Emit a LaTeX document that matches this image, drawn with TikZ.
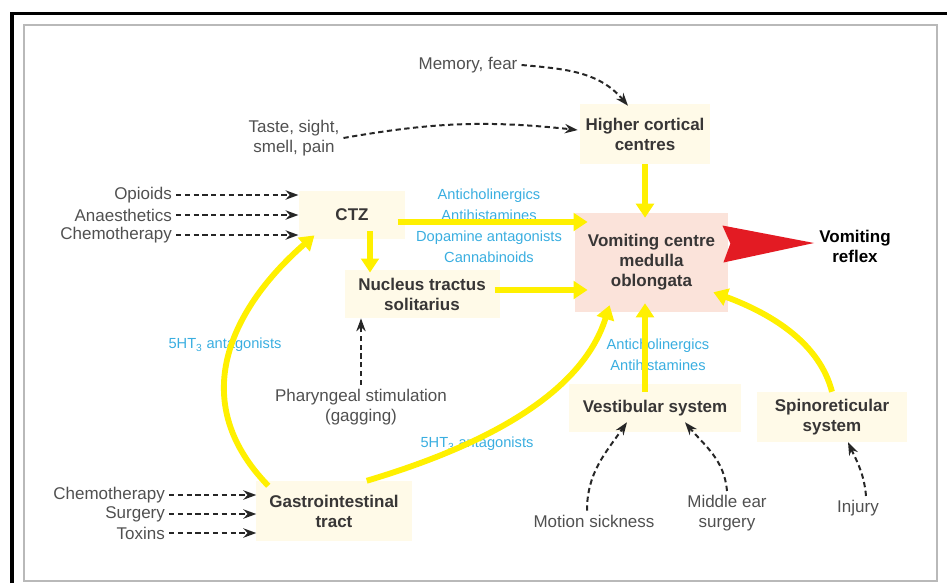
\documentclass[tikz,border=0pt]{standalone}
\usepackage{fontspec}
\setmainfont{Liberation Sans}
\usetikzlibrary{arrows.meta, calc}

\definecolor{boxfill}{HTML}{FFFAE8}
\definecolor{centrefill}{HTML}{FBE3DA}
\definecolor{signalyellow}{HTML}{FFF000}
\definecolor{drugblue}{HTML}{3AAEE0}
\definecolor{causegray}{HTML}{505050}
\definecolor{boxtext}{HTML}{383636}
\definecolor{reflexred}{HTML}{E31B23}

\begin{document}
\begin{tikzpicture}[
	x=0.03cm, y=0.03cm,
	region/.style={fill=boxfill, text=boxtext, align=center, inner sep=0pt,
		font=\bfseries\fontsize{14.5}{17}\selectfont},
	cause/.style={text=causegray, align=center, font=\fontsize{14.5}{17}\selectfont},
	drug/.style={text=drugblue, align=center, font=\fontsize{12.5}{18}\selectfont},
	signal/.style={draw=signalyellow, line width=5pt, -{Triangle[length=12pt, width=15pt]}},
	trigger/.style={draw=black!85, line width=1.7pt, dash pattern=on 4.5pt off 3pt,
		-{Stealth[length=11pt, width=8pt]}},
]
	\useasboundingbox (0, 0) rectangle (947, -583);

	% Frame
	\draw[line width=2.6pt] (12, -583) -- (12, -13.5) -- (947, -13.5);
	\draw[gray!55, line width=1.4pt] (24, -25) rectangle (937, -581);

	% Centres
	\node[region, minimum width=3.9cm, minimum height=1.8cm] (hcc) at (645, -134) {Higher cortical\\centres};
	\node[region, minimum width=3.2cm, minimum height=1.45cm] (ctz) at (352, -215) {CTZ};
	\node[region, minimum width=4.65cm, minimum height=1.45cm] (nts) at (422, -294) {Nucleus tractus\\solitarius};
	\node[region, fill=centrefill, minimum width=4.6cm, minimum height=2.97cm] (vc) at (651.5, -262.5) {Vomiting centre\\medulla\\oblongata};
	\node[region, minimum width=4.65cm, minimum height=1.8cm] (gi) at (334, -511) {Gastrointestinal\\tract};
	\node[region, minimum width=5.16cm, minimum height=1.44cm] (vest) at (655, -408) {Vestibular system};
	\node[region, minimum width=4.5cm, minimum height=1.5cm] (spin) at (832, -417) {Spinoreticular\\system};
	\node[region, fill=none, text=black] (reflex) at (855, -246) {Vomiting\\reflex};

	% Causes
	\node[cause] (memory) at (468, -65) {Memory, fear};
	\node[cause] (senses) at (294, -138) {Taste, sight,\\smell, pain};
	\foreach \n/\t/\y in {opioids/Opioids/195, anaesth/Anaesthetics/215, chemoctz/Chemotherapy/235} {
		\node[cause, anchor=east] (\n) at (176, -\y) {\t};
	}
	\node[cause] (pharynx) at (361, -407) {Pharyngeal stimulation\\(gagging)};
	\foreach \n/\t/\y in {chemogi/Chemotherapy/495, surgery/Surgery/514, toxins/Toxins/533} {
		\node[cause, anchor=east] (\n) at (169, -\y) {\t};
	}
	\node[cause] (motion) at (594, -521) {Motion sickness};
	\node[cause] (middleear) at (727, -513) {Middle ear\\surgery};
	\node[cause] (injury) at (858, -508) {Injury};

	% Drugs acting on each pathway
	\node[drug] (ctzdrugs) at (489, -225.5) {Anticholinergics\\Antihistamines\\Dopamine antagonists\\Cannabinoids};
	\node[drug] (vestdrugs) at (658, -355) {Anticholinergics\\Antihistamines};
	\node[drug] (htgut) at (225, -345) {5HT\textsubscript{3} antagonists};
	\node[drug] (htcentre) at (477, -444) {5HT\textsubscript{3} antagonists};

	% Dashed triggers
	\draw[trigger] (memory.east) to[out=-5, in=130] ($(hcc.north)+(-17, -2)$);
	\draw[trigger] (senses.east) to[bend left=8] ($(hcc.west)+(-2, 4)$);
	\foreach \n in {opioids, anaesth, chemoctz} {
		\draw[trigger] (\n.east) -- (\n.east -| ctz.west);
	}
	\foreach \n in {chemogi, surgery, toxins} {
		\draw[trigger] (\n.east) -- (\n.east -| gi.west);
	}
	\draw[trigger] (pharynx.north) -- (pharynx.north |- nts.south);
	\draw[trigger] ($(motion.north)+(-7, 0)$) to[out=90, in=235] ($(vest.south)+(-28, 10)$);
	\draw[trigger] (middleear.north) to[out=95, in=-50] ($(vest.south)+(30, 10)$);
	\draw[trigger] ($(injury.north)+(8, 0)$) to[out=95, in=-65] ($(spin.south)+(16, 0)$);

	% Yellow pathways
	\draw[signal] (hcc.south) -- ($(hcc.south |- vc.north)+(0, -5)$);
	\draw[signal] ($(ctz.east)+(-8, -7)$) -- ($(ctz.east -| vc.west)+(13, -7)$);
	\draw[signal] ($(ctz.south)+(18, 8)$) -- ($(ctz.south |- nts.north)+(18, -3)$);
	\draw[signal] ($(nts.east)+(-5, 4)$) -- ($(nts.east -| vc.west)+(13, 4)$);
	\draw[signal] ($(vest.north)+(-10, -8)$) -- ($(vc.south)+(-6.5, 9)$);
	\draw[signal] (spin.north) .. controls (820, -345) and (775, -315) .. ($(vc.south east)+(-15, 20)$);
	\draw[signal] ($(gi.north west)+(12, -5)$) .. controls (180, -395) and (240, -300) .. ($(ctz.south west)+(16, 4)$);
	\draw[signal] ($(gi.north east)+(-45, 0)$) .. controls (470, -450) and (580, -400) .. ($(vc.south west)+(35, 7)$);

	% Reflex
	\fill[reflexred] ($(vc.east)+(-6, 37)$) -- ($(reflex.west)+(-5, 3)$) -- ($(vc.east)+(-5, 0)$)
		-- ($(vc.east)+(2, 19)$) -- cycle;
\end{tikzpicture}
\end{document}
